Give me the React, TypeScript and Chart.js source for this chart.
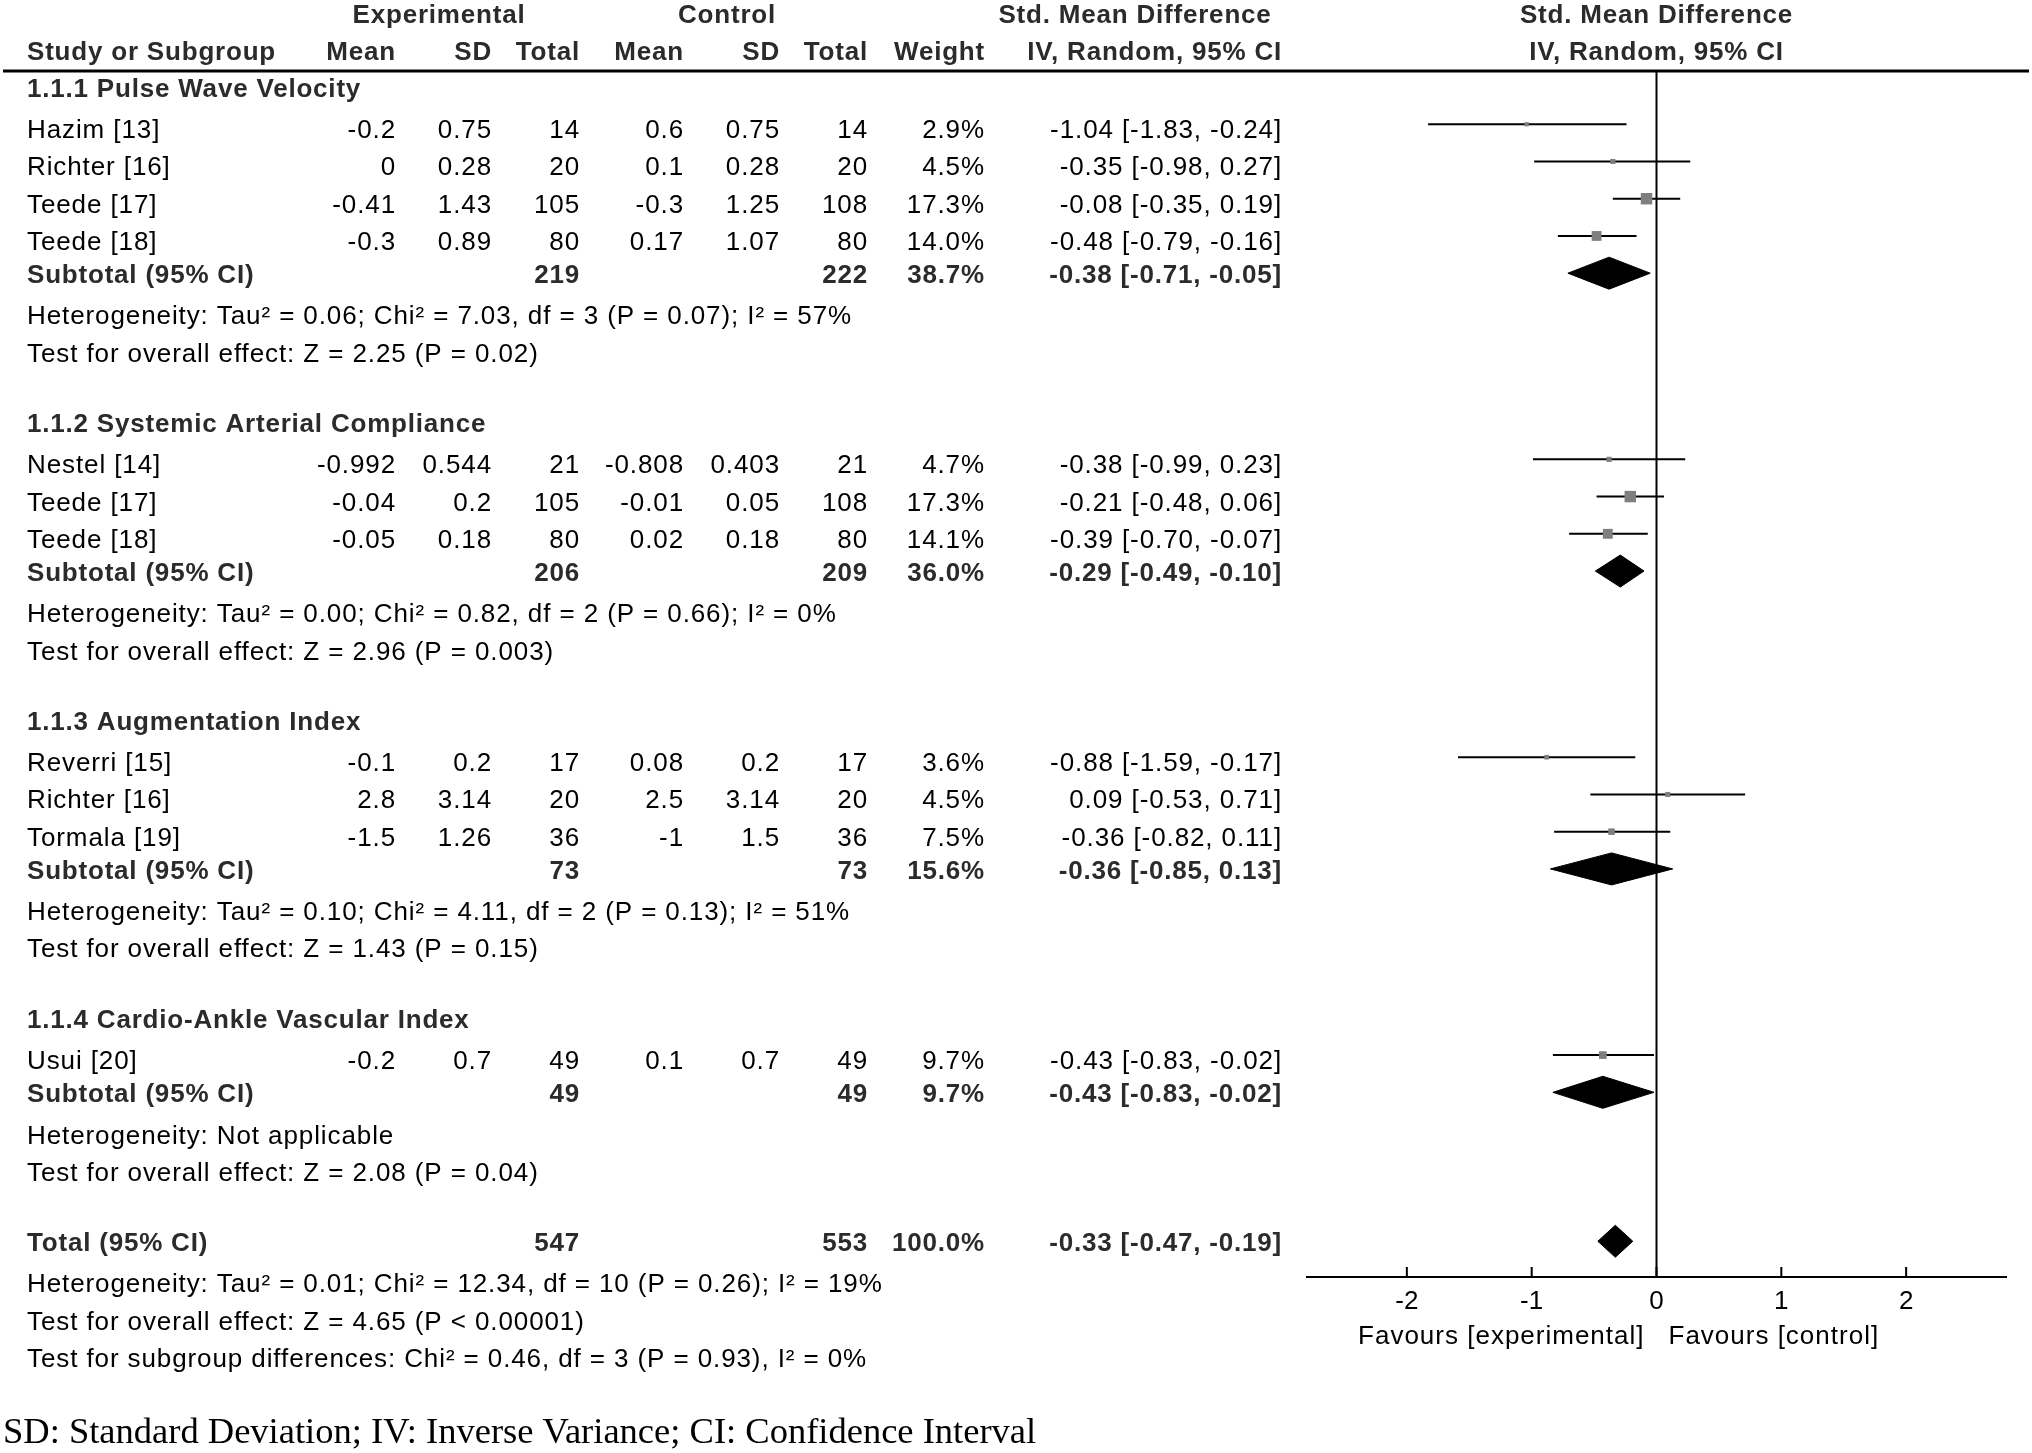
import React, { useEffect, useRef } from "react";
import { Chart, registerables } from "chart.js";

Chart.register(...registerables);

// ---------------- data ----------------
const groupTitles = [
  "1.1.1 Pulse Wave Velocity",
  "1.1.2 Systemic Arterial Compliance",
  "1.1.3 Augmentation Index",
  "1.1.4 Cardio-Ankle Vascular Index",
];
const studyNames = [
  "Hazim [13]", "Richter [16]", "Teede [17]", "Teede [18]",
  "Nestel [14]", "Teede [17]", "Teede [18]",
  "Reverri [15]", "Richter [16]", "Tormala [19]",
  "Usui [20]",
];
const studyGroup = [0, 0, 0, 0, 1, 1, 1, 2, 2, 2, 3];
const expMean = ["-0.2", "0", "-0.41", "-0.3", "-0.992", "-0.04", "-0.05", "-0.1", "2.8", "-1.5", "-0.2"];
const expSD = ["0.75", "0.28", "1.43", "0.89", "0.544", "0.2", "0.18", "0.2", "3.14", "1.26", "0.7"];
const expTotal = [14, 20, 105, 80, 21, 105, 80, 17, 20, 36, 49];
const ctlMean = ["0.6", "0.1", "-0.3", "0.17", "-0.808", "-0.01", "0.02", "0.08", "2.5", "-1", "0.1"];
const ctlSD = ["0.75", "0.28", "1.25", "1.07", "0.403", "0.05", "0.18", "0.2", "3.14", "1.5", "0.7"];
const ctlTotal = [14, 20, 108, 80, 21, 108, 80, 17, 20, 36, 49];
const studyWeight = [2.9, 4.5, 17.3, 14.0, 4.7, 17.3, 14.1, 3.6, 4.5, 7.5, 9.7];
const studySMD = [-1.04, -0.35, -0.08, -0.48, -0.38, -0.21, -0.39, -0.88, 0.09, -0.36, -0.43];
const studyLow = [-1.83, -0.98, -0.35, -0.79, -0.99, -0.48, -0.70, -1.59, -0.53, -0.82, -0.83];
const studyHigh = [-0.24, 0.27, 0.19, -0.16, 0.23, 0.06, -0.07, -0.17, 0.71, 0.11, -0.02];

const subExpTotal = [219, 206, 73, 49];
const subCtlTotal = [222, 209, 73, 49];
const subWeight = [38.7, 36.0, 15.6, 9.7];
const subSMD = [-0.38, -0.29, -0.36, -0.43];
const subLow = [-0.71, -0.49, -0.85, -0.83];
const subHigh = [-0.05, -0.10, 0.13, -0.02];
const subHet = [
  "Heterogeneity: Tau² = 0.06; Chi² = 7.03, df = 3 (P = 0.07); I² = 57%",
  "Heterogeneity: Tau² = 0.00; Chi² = 0.82, df = 2 (P = 0.66); I² = 0%",
  "Heterogeneity: Tau² = 0.10; Chi² = 4.11, df = 2 (P = 0.13); I² = 51%",
  "Heterogeneity: Not applicable",
];
const subTest = [
  "Test for overall effect: Z = 2.25 (P = 0.02)",
  "Test for overall effect: Z = 2.96 (P = 0.003)",
  "Test for overall effect: Z = 1.43 (P = 0.15)",
  "Test for overall effect: Z = 2.08 (P = 0.04)",
];

const totalExp = 547;
const totalCtl = 553;
const totalWeight = 100.0;
const totalSMD = -0.33;
const totalLow = -0.47;
const totalHigh = -0.19;
const totalNotes = [
  "Heterogeneity: Tau² = 0.01; Chi² = 12.34, df = 10 (P = 0.26); I² = 19%",
  "Test for overall effect: Z = 4.65 (P < 0.00001)",
  "Test for subgroup differences: Chi² = 0.46, df = 3 (P = 0.93), I² = 0%",
];

const xTicks = [-2, -1, 0, 1, 2];
const favoursLeft = "Favours [experimental]";
const favoursRight = "Favours [control]";
const footnote = "SD: Standard Deviation; IV: Inverse Variance; CI: Confidence Interval";

// ---------------- layout / style ----------------
const W = 2032;
const H = 1453;
const FONT = '"Liberation Sans", Arial, sans-serif';
const COL = {
  name: 27, expMean: 396, expSD: 492, expTotal: 580,
  ctlMean: 684, ctlSD: 780, ctlTotal: 868, weight: 985, ci: 1282,
  expHead: 439, ctlHead: 727, smdHead: 1135,
};
const PLOT_LEFT = 1307;
const PLOT_RIGHT = 2006;
const HEADER_LINE_Y = 71;
const AXIS_Y = 1277;
const X_MIN = -2.8;
const X_MAX = 2.8;
const Y_MIN = -0.43;
const Y_MAX = 31.96;
const DIAMOND_HALF = 0.43;

type Row = { k: number; kind: "group" | "study" | "subtotal" | "note" | "total"; idx: number; text?: string };

function buildRows(): Row[] {
  const rows: Row[] = [];
  let k = 0;
  groupTitles.forEach((title, g) => {
    rows.push({ k: k++, kind: "group", idx: g, text: title });
    studyNames.forEach((_, i) => {
      if (studyGroup[i] === g) rows.push({ k: k++, kind: "study", idx: i });
    });
    rows.push({ k: k++, kind: "subtotal", idx: g });
    rows.push({ k: k++, kind: "note", idx: g, text: subHet[g] });
    rows.push({ k: k++, kind: "note", idx: g, text: subTest[g] });
    k++;
  });
  rows.push({ k: k++, kind: "total", idx: 0 });
  totalNotes.forEach((t, i) => rows.push({ k: k++, kind: "note", idx: i, text: t }));
  return rows;
}

const ci = (e: number, l: number, h: number) => `${e.toFixed(2)} [${l.toFixed(2)}, ${h.toFixed(2)}]`;
const pct = (w: number) => `${w.toFixed(1)}%`;

function diamond(e: number, l: number, h: number, k: number) {
  return [
    { x: l, y: k },
    { x: e, y: k - DIAMOND_HALF },
    { x: h, y: k },
    { x: e, y: k + DIAMOND_HALF },
    { x: l, y: k },
  ];
}

export default function App() {
  const ref = useRef<HTMLCanvasElement | null>(null);

  useEffect(() => {
    const canvas = ref.current;
    if (!canvas) return;
    const rows = buildRows();
    const studyRows = rows.filter((r) => r.kind === "study");
    const subRows = rows.filter((r) => r.kind === "subtotal");
    const totRow = rows.find((r) => r.kind === "total")!;

    const datasets: any[] = [];
    datasets.push({
      label: "studies",
      data: studyRows.map((r) => ({ x: studySMD[r.idx], y: r.k })),
      showLine: false,
      pointStyle: "rect",
      pointRadius: studyRows.map((r) => (0.5 * studyWeight[r.idx] + 2.8) / Math.SQRT2),
      pointBackgroundColor: "#7f7f7f",
      pointBorderWidth: 0,
      pointHoverRadius: 0,
    });
    studyRows.forEach((r) => {
      datasets.push({
        label: "ci" + r.idx,
        data: [
          { x: studyLow[r.idx], y: r.k },
          { x: studyHigh[r.idx], y: r.k },
        ],
        showLine: true,
        borderColor: "#000",
        borderWidth: 2,
        pointRadius: 0,
        fill: false,
      });
    });
    subRows.forEach((r) => {
      datasets.push({
        label: "sub" + r.idx,
        data: diamond(subSMD[r.idx], subLow[r.idx], subHigh[r.idx], r.k),
        showLine: true,
        borderColor: "#000",
        borderWidth: 1,
        backgroundColor: "#000",
        pointRadius: 0,
        fill: "shape",
        tension: 0,
      });
    });
    datasets.push({
      label: "total",
      data: diamond(totalSMD, totalLow, totalHigh, totRow.k),
      showLine: true,
      borderColor: "#000",
      borderWidth: 1,
      backgroundColor: "#000",
      pointRadius: 0,
      fill: "shape",
      tension: 0,
    });

    const textPlugin = {
      id: "forestText",
      beforeDatasetsDraw(chart: any) {
        const { ctx, chartArea } = chart;
        const xs = chart.scales.x;
        const x0 = xs.getPixelForValue(0);
        ctx.save();
        ctx.strokeStyle = "#000";
        ctx.lineWidth = 2;
        ctx.beginPath();
        ctx.moveTo(x0, chartArea.top);
        ctx.lineTo(x0, chartArea.bottom);
        ctx.stroke();
        ctx.restore();
      },
      afterDraw(chart: any) {
        const { ctx, chartArea } = chart;
        const xs = chart.scales.x;
        const ys = chart.scales.y;
        const x0 = xs.getPixelForValue(0);
        const yp = (k: number) => ys.getPixelForValue(k);

        const txt = (s: string, x: number, k: number, align: CanvasTextAlign, bold: boolean) => {
          ctx.save();
          ctx.font = `${bold ? "bold " : ""}26px ${FONT}`;
          (ctx as any).letterSpacing = bold ? "0.8px" : "0.9px";
          ctx.fillStyle = bold ? "#2b2b2b" : "#000";
          ctx.textAlign = align;
          ctx.textBaseline = "alphabetic";
          ctx.fillText(s, x, yp(k) + (bold ? 10 : 14));
          ctx.restore();
        };

        // header rows
        txt("Experimental", COL.expHead, -2, "center", true);
        txt("Control", COL.ctlHead, -2, "center", true);
        txt("Std. Mean Difference", COL.smdHead, -2, "center", true);
        txt("Std. Mean Difference", x0, -2, "center", true);
        txt("Study or Subgroup", COL.name, -1, "left", true);
        txt("Mean", COL.expMean, -1, "right", true);
        txt("SD", COL.expSD, -1, "right", true);
        txt("Total", COL.expTotal, -1, "right", true);
        txt("Mean", COL.ctlMean, -1, "right", true);
        txt("SD", COL.ctlSD, -1, "right", true);
        txt("Total", COL.ctlTotal, -1, "right", true);
        txt("Weight", COL.weight, -1, "right", true);
        txt("IV, Random, 95% CI", COL.ci, -1, "right", true);
        txt("IV, Random, 95% CI", x0, -1, "center", true);

        // header underline
        ctx.save();
        ctx.strokeStyle = "#000";
        ctx.lineWidth = 3;
        ctx.beginPath();
        ctx.moveTo(3, chartArea.top);
        ctx.lineTo(W - 3, chartArea.top);
        ctx.stroke();
        ctx.restore();

        rows.forEach((r) => {
          if (r.kind === "group") {
            txt(r.text!, COL.name, r.k, "left", true);
          } else if (r.kind === "note") {
            txt(r.text!, COL.name, r.k, "left", false);
          } else if (r.kind === "study") {
            const i = r.idx;
            txt(studyNames[i], COL.name, r.k, "left", false);
            txt(expMean[i], COL.expMean, r.k, "right", false);
            txt(expSD[i], COL.expSD, r.k, "right", false);
            txt(String(expTotal[i]), COL.expTotal, r.k, "right", false);
            txt(ctlMean[i], COL.ctlMean, r.k, "right", false);
            txt(ctlSD[i], COL.ctlSD, r.k, "right", false);
            txt(String(ctlTotal[i]), COL.ctlTotal, r.k, "right", false);
            txt(pct(studyWeight[i]), COL.weight, r.k, "right", false);
            txt(ci(studySMD[i], studyLow[i], studyHigh[i]), COL.ci, r.k, "right", false);
          } else if (r.kind === "subtotal") {
            const g = r.idx;
            txt("Subtotal (95% CI)", COL.name, r.k, "left", true);
            txt(String(subExpTotal[g]), COL.expTotal, r.k, "right", true);
            txt(String(subCtlTotal[g]), COL.ctlTotal, r.k, "right", true);
            txt(pct(subWeight[g]), COL.weight, r.k, "right", true);
            txt(ci(subSMD[g], subLow[g], subHigh[g]), COL.ci, r.k, "right", true);
          } else if (r.kind === "total") {
            txt("Total (95% CI)", COL.name, r.k, "left", true);
            txt(String(totalExp), COL.expTotal, r.k, "right", true);
            txt(String(totalCtl), COL.ctlTotal, r.k, "right", true);
            txt(pct(totalWeight), COL.weight, r.k, "right", true);
            txt(ci(totalSMD, totalLow, totalHigh), COL.ci, r.k, "right", true);
          }
        });

        // upward tick marks on x axis
        ctx.save();
        ctx.strokeStyle = "#000";
        ctx.lineWidth = 2;
        xs.ticks.forEach((t: any) => {
          const px = xs.getPixelForValue(t.value);
          ctx.beginPath();
          ctx.moveTo(px, chartArea.bottom - 10);
          ctx.lineTo(px, chartArea.bottom);
          ctx.stroke();
        });
        ctx.restore();

        // favours labels
        ctx.save();
        ctx.font = `26px ${FONT}`;
        (ctx as any).letterSpacing = "1px";
        ctx.fillStyle = "#000";
        ctx.textBaseline = "alphabetic";
        ctx.textAlign = "right";
        ctx.fillText(favoursLeft, x0 - 12, chartArea.bottom + 67);
        ctx.textAlign = "left";
        ctx.fillText(favoursRight, x0 + 12, chartArea.bottom + 67);
        ctx.restore();

        // footnote
        ctx.save();
        ctx.font = `36.5px "Liberation Serif", "Times New Roman", serif`;
        ctx.fillStyle = "#000";
        ctx.textAlign = "left";
        ctx.textBaseline = "alphabetic";
        ctx.fillText(footnote, 3, 1443);
        ctx.restore();
      },
    };

    const chart = new Chart(canvas, {
      type: "line",
      data: { datasets },
      options: {
        responsive: false,
        devicePixelRatio: 1,
        animation: false,
        events: [],
        layout: { padding: { left: PLOT_LEFT, right: W - PLOT_RIGHT, top: HEADER_LINE_Y, bottom: 0 } },
        plugins: { legend: { display: false }, tooltip: { enabled: false }, title: { display: false } },
        scales: {
          x: {
            type: "linear",
            position: "bottom",
            min: X_MIN,
            max: X_MAX,
            grid: { display: false, drawTicks: false },
            border: { display: true, color: "#000", width: 2 },
            ticks: {
              font: { family: FONT, size: 26 },
              color: "#000",
              padding: 9,
              maxRotation: 0,
              callback: (v: any) => String(v),
            },
            afterBuildTicks: (s: any) => {
              s.ticks = xTicks.map((v) => ({ value: v }));
            },
            afterFit: (s: any) => {
              s.height = H - AXIS_Y;
            },
          },
          y: {
            type: "linear",
            display: false,
            reverse: true,
            min: Y_MIN,
            max: Y_MAX,
          },
        },
      } as any,
      plugins: [textPlugin],
    });
    return () => chart.destroy();
  }, []);

  return (
    <div style={{ position: "fixed", left: 0, top: 0, width: W, height: H, background: "#fff" }}>
      <canvas ref={ref} width={W} height={H} style={{ display: "block", width: W, height: H }} />
    </div>
  );
}
